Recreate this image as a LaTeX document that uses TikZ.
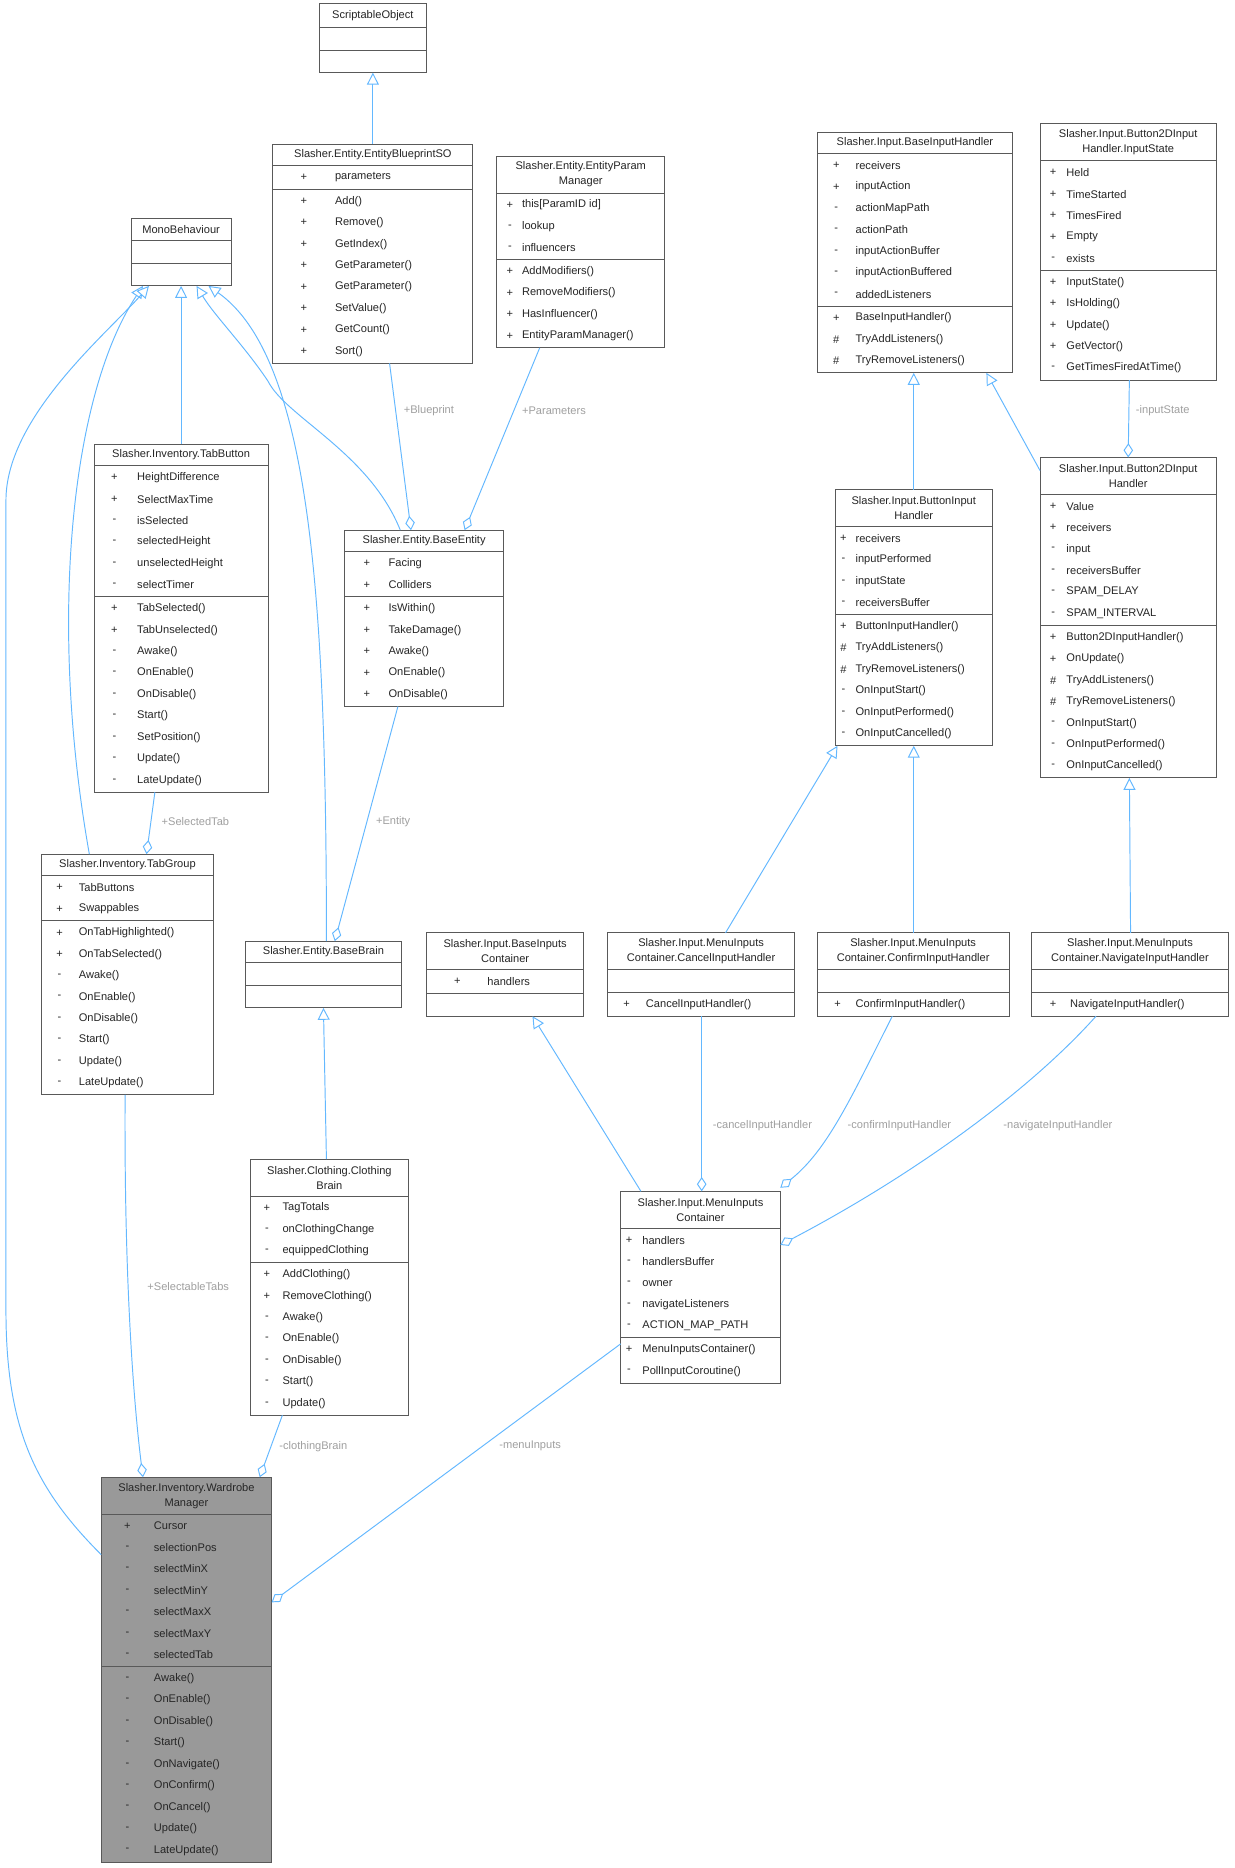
\documentclass[tikz,border=0pt]{standalone}
\usepackage{fontspec}
\setmainfont{Liberation Sans}
\usetikzlibrary{arrows.meta,calc}
\definecolor{edge}{HTML}{63B8FF}
\definecolor{lblc}{HTML}{A0A0A0}
\tikzset{
  clsline/.style={draw=black!65,line width=0.8pt},
  ttl/.style={font=\fontsize{9.3}{12.5}\selectfont,align=center,inner sep=0,text=black!85},
  symb/.style={font=\fontsize{9.3}{11}\selectfont,inner sep=0,text=black!85},
  memb/.style={font=\fontsize{9.3}{11}\selectfont,inner sep=0,anchor=west,text=black!85},
  inh/.style={draw=edge,line width=0.8pt,-{Triangle[open,length=10pt,width=10pt,fill=white]}},
  agg/.style={draw=edge,line width=0.8pt,-{Diamond[open,length=12pt,width=8pt,fill=white]}},
  lbl/.style={font=\fontsize{9.3}{11}\selectfont,text=lblc,inner sep=1pt}
}
\def\clsfill{white}
\newcommand\cls[8]{\def\cid{#1}\def\cx{#2}\def\cy{#3}\def\cw{#4}\def\ct{#5}\def\cth{#6}\def\sx{#7}\def\nx{#8}}
\newcommand\clsbody[4]{%
  \pgfmathsetmacro\ha{ifthenelse(#1==0,19,#1*18+2)}%
  \pgfmathsetmacro\hm{ifthenelse(#3==0,19,#3*18+2)}%
  \pgfmathsetmacro\yb{\cy+\cth}%
  \pgfmathsetmacro\yc{\yb+\ha}%
  \pgfmathsetmacro\yd{\yc+\hm}%
  \pgfmathsetmacro\xr{\cx+\cw}%
  \pgfmathsetmacro\hh{\yd-\cy}%
  \fill[\clsfill] (\cx,\cy) rectangle (\xr,\yd);
  \draw[clsline] (\cx,\cy) rectangle (\xr,\yd) (\cx,\yb) -- (\xr,\yb) (\cx,\yc) -- (\xr,\yc);
  \node[ttl] at ({\cx+\cw/2},{\cy+\cth/2}) {\ct};
  \ifnum#1>0 \foreach \s/\n [count=\i] in {#2} {\node[symb] at ({\cx+\sx},{\yb+1+18*\i-9}) {\s}; \node[memb] at ({\cx+\nx},{\yb+1+18*\i-9}) {\n};}\fi
  \ifnum#3>0 \foreach \s/\n [count=\i] in {#4} {\node[symb] at ({\cx+\sx},{\yc+1+18*\i-9}) {\s}; \node[memb] at ({\cx+\nx},{\yc+1+18*\i-9}) {\n};}\fi
  \node[inner sep=0,outer sep=0,minimum width=\cw pt,minimum height=\hh pt,anchor=north west] (\cid) at (\cx,\cy) {};
}
\begin{document}
\begin{tikzpicture}[x=1pt,y=-1pt]
\useasboundingbox (0,0) rectangle (1036,1568);
\fill[white] (0,0) rectangle (1036,1568);

\cls{so}{268}{3}{90}{ScriptableObject}{20}{10}{20}\clsbody{0}{}{0}{}
\cls{bp}{229}{121}{168}{Slasher.Entity.EntityBlueprintSO}{18}{26}{52}
\clsbody{1}{+/parameters}{8}{+/Add(),+/Remove(),+/GetIndex(),+/GetParameter(),+/GetParameter(),+/SetValue(),+/GetCount(),+/Sort()}
\cls{epm}{417}{131}{141}{Slasher.Entity.EntityParam\\Manager}{31}{11}{21}
\clsbody{3}{+/this[ParamID id],-/lookup,-/influencers}{4}{+/AddModifiers(),+/RemoveModifiers(),+/HasInfluencer(),+/EntityParamManager()}
\cls{mono}{110}{183}{84}{MonoBehaviour}{19}{10}{20}\clsbody{0}{}{0}{}
\cls{tabbutton}{79}{373}{146}{Slasher.Inventory.TabButton}{18}{17}{36}
\clsbody{6}{+/HeightDifference,+/SelectMaxTime,-/isSelected,-/selectedHeight,-/unselectedHeight,-/selectTimer}{9}{+/TabSelected(),+/TabUnselected(),-/Awake(),-/OnEnable(),-/OnDisable(),-/Start(),-/SetPosition(),-/Update(),-/LateUpdate()}
\cls{baseentity}{289}{445}{134}{Slasher.Entity.BaseEntity}{18}{19}{37}
\clsbody{2}{+/Facing,+/Colliders}{5}{+/IsWithin(),+/TakeDamage(),+/Awake(),+/OnEnable(),+/OnDisable()}
\cls{tabgroup}{35}{717}{144}{Slasher.Inventory.TabGroup}{18}{15}{31}
\clsbody{2}{+/TabButtons,+/Swappables}{8}{+/OnTabHighlighted(),+/OnTabSelected(),-/Awake(),-/OnEnable(),-/OnDisable(),-/Start(),-/Update(),-/LateUpdate()}
\cls{basebrain}{206}{790}{131}{Slasher.Entity.BaseBrain}{18}{10}{20}\clsbody{0}{}{0}{}
\cls{clothing}{210}{973}{133}{Slasher.Clothing.Clothing\\Brain}{31}{14}{27}
\clsbody{3}{+/TagTotals,-/onClothingChange,-/equippedClothing}{7}{+/AddClothing(),+/RemoveClothing(),-/Awake(),-/OnEnable(),-/OnDisable(),-/Start(),-/Update()}
\def\clsfill{black!40}
\cls{wardrobe}{85}{1240}{143}{Slasher.Inventory.Wardrobe\\Manager}{31}{22}{44}
\clsbody{7}{+/Cursor,-/selectionPos,-/selectMinX,-/selectMinY,-/selectMaxX,-/selectMaxY,-/selectedTab}{9}{-/Awake(),-/OnEnable(),-/OnDisable(),-/Start(),-/OnNavigate(),-/OnConfirm(),-/OnCancel(),-/Update(),-/LateUpdate()}
\def\clsfill{white}
\cls{base}{686}{111}{164}{Slasher.Input.BaseInputHandler}{18}{16}{32}
\clsbody{7}{+/receivers,+/inputAction,-/actionMapPath,-/actionPath,-/inputActionBuffer,-/inputActionBuffered,-/addedListeners}{3}{+/BaseInputHandler(),\#/TryAddListeners(),\#/TryRemoveListeners()}
\cls{istate}{873}{104}{148}{Slasher.Input.Button2DInput\\Handler.InputState}{31}{11}{22}
\clsbody{5}{+/Held,+/TimeStarted,+/TimesFired,+/Empty,-/exists}{5}{+/InputState(),+/IsHolding(),+/Update(),+/GetVector(),-/GetTimesFiredAtTime()}
\cls{bih}{701}{411}{132}{Slasher.Input.ButtonInput\\Handler}{31}{7}{17}
\clsbody{4}{+/receivers,-/inputPerformed,-/inputState,-/receiversBuffer}{6}{+/ButtonInputHandler(),\#/TryAddListeners(),\#/TryRemoveListeners(),-/OnInputStart(),-/OnInputPerformed(),-/OnInputCancelled()}
\cls{b2d}{873}{384}{148}{Slasher.Input.Button2DInput\\Handler}{31}{11}{22}
\clsbody{6}{+/Value,+/receivers,-/input,-/receiversBuffer,-/SPAM\_DELAY,-/SPAM\_INTERVAL}{7}{+/Button2DInputHandler(),+/OnUpdate(),\#/TryAddListeners(),\#/TryRemoveListeners(),-/OnInputStart(),-/OnInputPerformed(),-/OnInputCancelled()}
\cls{bic}{358}{783}{132}{Slasher.Input.BaseInputs\\Container}{31}{26}{51}
\clsbody{1}{+/handlers}{0}{}
\cls{cancel}{510}{783}{157}{Slasher.Input.MenuInputs\\Container.CancelInputHandler}{31}{16}{32}
\clsbody{0}{}{1}{+/CancelInputHandler()}
\cls{confirm}{686}{783}{161}{Slasher.Input.MenuInputs\\Container.ConfirmInputHandler}{31}{17}{32}
\clsbody{0}{}{1}{+/ConfirmInputHandler()}
\cls{nav}{866}{783}{165}{Slasher.Input.MenuInputs\\Container.NavigateInputHandler}{31}{18}{32}
\clsbody{0}{}{1}{+/NavigateInputHandler()}
\cls{menu}{521}{1000}{134}{Slasher.Input.MenuInputs\\Container}{31}{7}{18}
\clsbody{5}{+/handlers,-/handlersBuffer,-/owner,-/navigateListeners,-/ACTION\_MAP\_PATH}{2}{+/MenuInputsContainer(),-/PollInputCoroutine()}

% inheritance
\draw[inh] (bp.north) -- (so.south);
\draw[inh] (tabbutton.north) -- (mono.south);
\draw[inh] ($(tabgroup.north west)+(40,0)$) .. controls (40,520) and (60,330) .. ($(mono.south west)+(10,0)$);
\draw[inh] ($(baseentity.north west)+(47,0)$) .. controls (310,380) and (240,350) .. (225,320) .. controls (205,290) and (180,265) .. ($(mono.south east)+(-29,0)$);
\draw[inh] ($(basebrain.north west)+(68,0)$) .. controls (274,500) and (260,300) .. ($(mono.south east)+(-19,0)$);
\draw[inh] ($(wardrobe.north west)+(0,65)$) .. controls (30,1250) and (5,1200) .. (5,1100) -- (5,420) .. controls (5,350) and (90,280) .. ($(mono.south west)+(15,0)$);
\draw[inh] ($(clothing.north west)+(64,0)$) -- (basebrain.south);
\draw[inh] ($(menu.north west)+(17,0)$) -- ($(bic.south west)+(89,0)$);
\draw[inh] ($(cancel.north west)+(99,0)$) -- ($(bih.south west)+(2,0)$);
\draw[inh] ($(confirm.north west)+(81,0)$) -- ($(bih.south west)+(66,0)$);
\draw[inh] ($(nav.north west)+(83,0)$) -- ($(b2d.south west)+(75,0)$);
\draw[inh] ($(bih.north west)+(66,0)$) -- ($(base.south west)+(81,0)$);
\draw[inh] ($(b2d.north west)+(0,11)$) -- ($(base.south east)+(-22,0)$);

% aggregation
\draw[agg] ($(bp.south west)+(98,0)$) -- ($(baseentity.north west)+(56,0)$);
\draw[agg] ($(epm.south west)+(36,0)$) -- ($(baseentity.north west)+(101,0)$);
\draw[agg] ($(tabbutton.south west)+(51,0)$) -- ($(tabgroup.north west)+(88,0)$);
\draw[agg] ($(baseentity.south west)+(45,0)$) -- ($(basebrain.north west)+(75,0)$);
\draw[agg] ($(tabgroup.south west)+(70,0)$) .. controls (104,1100) and (115,1200) .. ($(wardrobe.north west)+(35,0)$);
\draw[agg] ($(clothing.south west)+(27,0)$) -- ($(wardrobe.north east)+(-10,0)$);
\draw[agg] ($(menu.north west)+(0,128)$) -- ($(wardrobe.north east)+(0,105)$);
\draw[agg] ($(cancel.south west)+(79,0)$) -- ($(menu.north west)+(68,0)$);
\draw[agg] ($(confirm.south west)+(63,0)$) .. controls (715,920) and (695,965) .. ($(menu.north east)+(0,-3)$);
\draw[agg] ($(nav.south west)+(54,0)$) .. controls (860,920) and (760,990) .. ($(menu.north east)+(0,45)$);
\draw[agg] ($(istate.south west)+(75,0)$) -- ($(b2d.north west)+(74,0)$);

% labels
\node[lbl] (l1) at (360,345) {+Blueprint};
\node[lbl] (l2) at (465,345) {+Parameters};
\node[lbl] (l3) at (164,690) {+SelectedTab};
\node[lbl] (l4) at (330,690) {+Entity};
\node[lbl] (l5) at (158,1080) {+SelectableTabs};
\node[lbl] (l6) at (263,1214) {-clothingBrain};
\node[lbl] (l7) at (445,1214) {-menuInputs};
\node[lbl] (l8) at (640,945) {-cancelInputHandler};
\node[lbl] (l9) at (755,945) {-confirmInputHandler};
\node[lbl] (l10) at (888,945) {-navigateInputHandler};
\node[lbl] (l11) at (976,345) {-inputState};
\end{tikzpicture}
\end{document}
